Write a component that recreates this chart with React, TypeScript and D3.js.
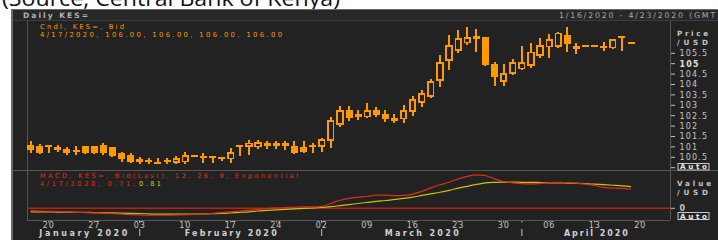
import React from "react";
import * as d3 from "d3";

const W = 718;
const H = 240;

// weekdays on the time axis, 16 Jan - 23 Apr 2020
const axisDays = d3.timeDay
  .range(new Date(2020, 0, 16), new Date(2020, 3, 24))
  .filter((d) => d.getDay() > 0 && d.getDay() < 6);

// daily KES= bid candles (16 Jan - 20 Apr)
const opens = [101.08, 101.06, 101.09, 101.0, 100.88, 100.85, 101.04, 101.04, 101.11, 100.98, 100.69, 100.6, 100.4, 100.38, 100.26, 100.38, 100.24, 100.26, 100.58, 100.56, 100.56, 100.53, 100.4, 101.08, 101.01, 100.98, 101.04, 101.17, 101.06, 101.04, 101.01, 101.09, 101.01, 101.3, 102.05, 102.77, 102.45, 102.42, 102.77, 102.58, 102.38, 102.33, 102.69, 103.13, 103.41, 104.17, 105.14, 105.63, 105.98, 106.33, 106.27, 104.97, 104.13, 104.5, 104.73, 104.9, 105.38, 105.79, 105.82, 106.38, 105.85, 105.85, 105.85, 105.85, 105.74, 106.33, 106.0];
const highs = [101.28, 101.14, 101.1, 101.09, 101.01, 101.04, 101.06, 101.06, 101.17, 101.0, 100.77, 100.72, 100.5, 100.48, 100.45, 100.47, 100.58, 100.74, 100.58, 100.69, 100.56, 100.53, 100.96, 101.08, 101.33, 101.33, 101.28, 101.28, 101.28, 101.28, 101.28, 101.17, 101.41, 102.42, 102.97, 102.97, 102.77, 103.1, 102.9, 102.77, 102.57, 103.01, 103.45, 103.74, 104.25, 105.42, 106.38, 106.62, 106.75, 106.65, 106.29, 105.07, 104.99, 105.21, 105.85, 105.98, 106.22, 106.43, 106.54, 106.75, 106.01, 105.85, 105.85, 106.06, 106.2, 106.33, 106.0];
const lows = [100.72, 100.66, 100.72, 100.74, 100.63, 100.61, 100.67, 100.67, 100.63, 100.5, 100.29, 100.24, 100.19, 100.16, 100.18, 100.18, 100.16, 100.19, 100.58, 100.21, 100.24, 100.32, 100.24, 100.56, 100.61, 100.9, 100.9, 100.9, 100.85, 100.64, 100.69, 100.69, 100.77, 100.96, 101.97, 102.26, 102.29, 102.38, 102.42, 102.21, 102.13, 102.13, 102.5, 102.93, 103.34, 103.89, 104.7, 105.5, 105.9, 105.58, 104.9, 103.94, 103.94, 104.46, 104.7, 104.78, 105.26, 105.26, 105.77, 105.58, 105.47, 105.85, 105.85, 105.63, 105.72, 105.63, 106.0];
const closes = [100.85, 100.69, 100.98, 100.85, 100.69, 100.75, 100.69, 100.69, 100.69, 100.56, 100.4, 100.26, 100.27, 100.28, 100.18, 100.29, 100.45, 100.61, 100.58, 100.5, 100.45, 100.48, 100.74, 100.98, 101.2, 101.22, 101.17, 101.06, 101.17, 100.69, 100.77, 100.98, 101.37, 102.29, 102.77, 102.38, 102.58, 102.77, 102.53, 102.33, 102.25, 102.77, 103.29, 103.58, 104.17, 105.07, 105.9, 106.22, 106.27, 106.17, 104.94, 104.35, 104.54, 105.07, 105.07, 105.58, 105.9, 106.17, 106.49, 105.95, 105.72, 105.85, 105.85, 105.79, 106.17, 106.25, 106.0];

// MACD (12, 26, 9) and its signal line
const macd = [-0.09, -0.1, -0.11, -0.12, -0.13, -0.15, -0.16, -0.17, -0.18, -0.2, -0.22, -0.24, -0.25, -0.26, -0.26, -0.26, -0.25, -0.24, -0.23, -0.21, -0.19, -0.16, -0.13, -0.1, -0.07, -0.04, -0.01, 0.01, 0.03, 0.04, 0.05, 0.05, 0.07, 0.18, 0.3, 0.37, 0.41, 0.44, 0.49, 0.49, 0.47, 0.48, 0.53, 0.63, 0.76, 0.88, 0.97, 1.1, 1.19, 1.25, 1.22, 1.1, 1.0, 0.95, 0.92, 0.91, 0.93, 0.96, 0.97, 0.96, 0.94, 0.9, 0.85, 0.78, 0.75, 0.74, 0.71];
const signal = [-0.13, -0.13, -0.13, -0.14, -0.14, -0.15, -0.15, -0.16, -0.16, -0.17, -0.18, -0.19, -0.2, -0.21, -0.22, -0.22, -0.22, -0.22, -0.22, -0.21, -0.2, -0.19, -0.17, -0.15, -0.13, -0.1, -0.08, -0.06, -0.04, -0.02, 0.0, 0.01, 0.03, 0.06, 0.1, 0.14, 0.18, 0.22, 0.26, 0.29, 0.33, 0.37, 0.42, 0.48, 0.54, 0.6, 0.67, 0.75, 0.82, 0.89, 0.95, 0.97, 0.98, 0.98, 0.97, 0.97, 0.96, 0.95, 0.95, 0.94, 0.93, 0.92, 0.9, 0.88, 0.86, 0.84, 0.81];

const monthNames = ["January 2020", "February 2020", "March 2020", "April 2020"];
const monthWidths = [88, 92, 74, 64];

const ORANGE = "#ff9900";
const LABEL = "#c4c4c4";
const LINE = "#555555";
const FONT = "DejaVu Sans";

const plotL = 27;
const plotR = 670;

function Txt(props: any) {
  const { x, y, len, anchor, bold, fill, size, ls, children } = props;
  return (
    <text
      x={x}
      y={y}
      fontFamily={FONT}
      fontSize={size || 8}
      fontWeight={bold ? "bold" : "normal"}
      fill={fill || LABEL}
      textAnchor={anchor || "start"}
      textLength={len}
      lengthAdjust={len ? "spacing" : undefined}
      letterSpacing={ls}
    >
      {children}
    </text>
  );
}

export default function App() {
  const x = d3.scaleBand<number>().domain(d3.range(axisDays.length)).range([26, 672]);
  const xc = (i: number) => (x(i) as number) + x.bandwidth() / 2;
  const yP = d3.scaleLinear().domain([100, 105.5]).range([167.7, 53.3]);
  const yM = d3.scaleLinear().domain([0, 1]).range([208.3, 181.5]);

  const priceTicks = yP.ticks(11);
  const mondays = axisDays.map((d, i) => ({ d, i })).filter((o) => o.d.getDay() === 1);
  const monthStarts = axisDays
    .map((d, i) => ({ d, i }))
    .filter((o, k, arr) => k > 0 && o.d.getMonth() !== arr[k - 1].d.getMonth());
  const bounds = [plotL, ...monthStarts.map((o) => xc(o.i)), plotR];

  const line = d3
    .line<number>()
    .x((_, i) => xc(i))
    .y((v) => yM(v))
    .curve(d3.curveMonotoneX);

  const fmtDay = d3.timeFormat("%d");

  return (
    <svg width={W} height={H} style={{ position: "absolute", left: 0, top: 0, background: "#fff" }}>
      <text x={2} y={5.5} fontFamily="Open Sans" fontSize={22} fill="#111" textLength={338} lengthAdjust="spacingAndGlyphs">
        (Source, Central Bank of Kenya)
      </text>

      {/* panel */}
      <rect x={11} y={9} width={W - 11} height={H - 9} fill="#6a6a6a" />
      <rect x={13} y={10} width={W - 13} height={H - 10} fill="#222222" />
      <rect x={13} y={10} width={W - 13} height={10.5} fill="#282828" />
      <g shapeRendering="crispEdges">
        <line x1={13} x2={W} y1={20.5} y2={20.5} stroke="#3c3c3c" />
        <line x1={plotL} x2={plotL} y1={21} y2={220} stroke={LINE} />
        <line x1={plotR} x2={plotR} y1={21} y2={220} stroke={LINE} />
        <line x1={13} x2={W} y1={170} y2={170} stroke={LINE} />
        <line x1={plotL} x2={plotR} y1={220} y2={220} stroke={LINE} />
      </g>

      <Txt x={23} y={17.7} bold len={65} fill="#b4b4b4" size={7.5}>Daily KES=</Txt>
      <Txt x={559} y={18} len={161} fill="#a8a8a8" size={7.8}>1/16/2020 - 4/23/2020 (GMT)</Txt>

      <Txt x={40} y={29} len={84} fill={ORANGE} size={6.8}>Cndl, KES=, Bid</Txt>
      <Txt x={40} y={36.6} len={242} fill={ORANGE} size={6.8}>4/17/2020, 106.00, 106.00, 106.00, 106.00</Txt>

      {/* candles */}
      <g shapeRendering="crispEdges">
        {opens.map((o, i) => {
          const c = closes[i];
          const h = highs[i];
          const l = lows[i];
          const cx = xc(i);
          const top = yP(Math.max(o, c));
          const bot = yP(Math.min(o, c));
          const up = c > o;
          const bh = bot - top;
          if (h === l) {
            return <rect key={i} x={cx - 3.5} y={yP(c) - 1} width={7} height={2} fill={ORANGE} />;
          }
          if (up && bh > 3) {
            return (
              <g key={i}>
                <rect x={cx - 1} y={yP(h)} width={2} height={top - yP(h)} fill={ORANGE} />
                <rect x={cx - 1} y={bot} width={2} height={yP(l) - bot} fill={ORANGE} />
                <rect x={cx - 2.7} y={top + 0.8} width={5.4} height={bh - 1.6} fill="none" stroke={ORANGE} strokeWidth={1.8} />
              </g>
            );
          }
          return (
            <g key={i}>
              <rect x={cx - 1} y={yP(h)} width={2} height={yP(l) - yP(h)} fill={ORANGE} />
              <rect x={cx - 3.5} y={top} width={7} height={Math.max(bh, 2)} fill={ORANGE} />
            </g>
          );
        })}
      </g>

      {/* price axis */}
      <Txt x={677} y={36} bold len={31} size={7.2}>Price</Txt>
      <Txt x={677} y={45.3} bold len={31} size={7.2}>/USD</Txt>
      {priceTicks.map((v) => (
        <g key={v}>
          <line x1={671} x2={675} y1={yP(v)} y2={yP(v)} stroke={LABEL} />
          {v !== 100 && (
            <Txt x={679.5} y={yP(v) + 2.8} ls={1.2} bold={v === 105} fill={v === 105 ? "#e0e0e0" : LABEL}>
              {String(v)}
            </Txt>
          )}
        </g>
      ))}
      <rect x={678} y={163.5} width={31} height={6.5} fill="none" stroke="#c8c8c8" strokeWidth={1} />
      <Txt x={680} y={169.4} bold len={27} fill="#e6e6e6" size={7.2}>Auto</Txt>

      {/* MACD panel */}
      <line x1={plotL} x2={plotR} y1={yM(0)} y2={yM(0)} stroke="#b82010" strokeWidth={1.5} />
      <path d={line(signal) || ""} fill="none" stroke="#c9c010" strokeWidth={1.2} />
      <path d={line(macd) || ""} fill="none" stroke="#d8301a" strokeWidth={1.2} />
      <Txt x={40} y={178.2} len={258} fill="#e0301a" size={6.6}>MACD, KES=, Bid(Last),  12, 26, 9, Exponential</Txt>
      <Txt x={40} y={185.5} len={95} fill="#e0301a" size={6.6}>4/17/2020, 0.71,</Txt>
      <Txt x={139} y={185.5} len={22} fill="#d8d020" size={6.6}>0.81</Txt>

      <Txt x={677} y={186} bold len={34} size={7.2}>Value</Txt>
      <Txt x={677} y={195} bold len={31} size={7.2}>/USD</Txt>
      <line x1={671} x2={675} y1={yM(0)} y2={yM(0)} stroke={LABEL} />
      <Txt x={679.5} y={yM(0) + 2.8} bold>0</Txt>
      <rect x={678} y={212.5} width={31} height={7} fill="none" stroke="#c8c8c8" strokeWidth={1} />
      <Txt x={680} y={218.8} bold len={27} fill="#e6e6e6" size={7.2}>Auto</Txt>

      {/* time axis */}
      {mondays.map((o) => (
        <g key={o.i}>
          <rect x={xc(o.i) - 0.5} y={221} width={1} height={1.5} fill={LABEL} />
          <Txt x={xc(o.i)} y={228} anchor="middle" ls={0.8}>{fmtDay(o.d)}</Txt>
        </g>
      ))}
      {monthStarts.map((o) => (
        <g key={o.i}>
          <rect x={xc(o.i) - 0.5} y={221} width={1} height={1.5} fill={LABEL} />
          <rect x={xc(o.i) - 0.5} y={229} width={1} height={7} fill={LABEL} />
        </g>
      ))}
      {monthNames.map((m, k) => (
        <Txt key={m} x={(bounds[k] + bounds[k + 1]) / 2} y={235.5} anchor="middle" bold len={monthWidths[k]} fill="#d0d0d0">
          {m}
        </Txt>
      ))}
    </svg>
  );
}
